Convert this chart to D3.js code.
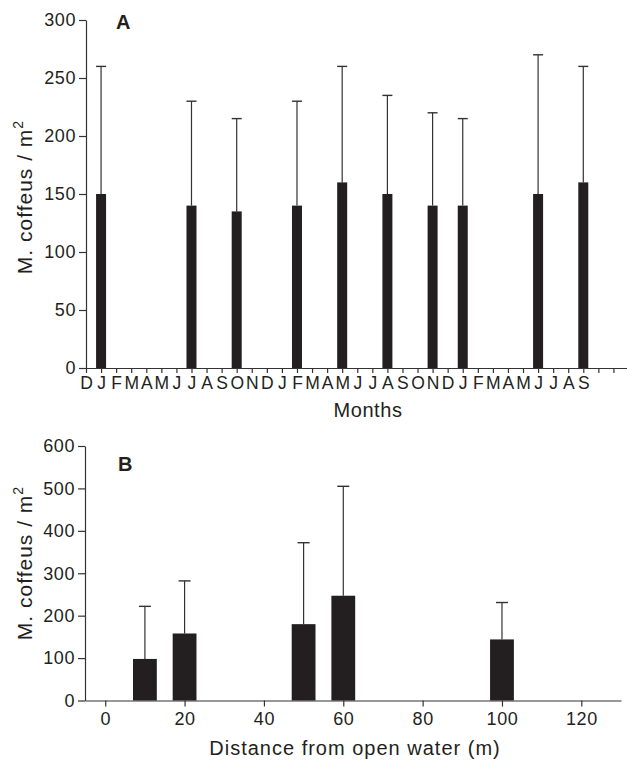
<!doctype html>
<html>
<head>
<meta charset="utf-8">
<script src="https://d3js.org/d3.v7.min.js"></script>
<style>
  body { margin: 0; background: #fff; }
  svg { display: block; font-family: "Liberation Sans", Arial, sans-serif; }
  .axis path, .axis line { stroke: #333; stroke-width: 1.2; }
  .axis text { fill: #231f20; font-size: 18px; letter-spacing: 0.6px; }
  .axis.months text { font-size: 17.5px; letter-spacing: 0; }
</style>
</head>
<body>
<svg id="chart" width="627" height="766"></svg>
<script>
// Panel A: monthly density
const monthLabels = ["D","J","F","M","A","M","J","J","A","S","O","N",
                     "D","J","F","M","A","M","J","J","A","S","O","N",
                     "D","J","F","M","A","M","J","J","A","S","",""];
const sampleMonth = [1, 7, 10, 14, 17, 20, 23, 25, 30, 33];
const monthMean   = [150, 140, 135, 140, 160, 150, 140, 140, 150, 160];
const monthUpper  = [260, 230, 215, 230, 260, 235, 220, 215, 270, 260];
const yTicksA = [0, 50, 100, 150, 200, 250, 300];

// Panel B: distance from open water
const distance    = [10, 20, 50, 60, 100];
const distMean    = [98, 158, 180, 247, 144];
const distUpper   = [222, 282, 372, 505, 231];
const xTicksB = [0, 20, 40, 60, 80, 100, 120];
const yTicksB = [0, 100, 200, 300, 400, 500, 600];

const INK = "#231f20";
const svg = d3.select("#chart");
svg.append("rect").attr("width", 627).attr("height", 766).attr("fill", "#fff");

function yLabel(cx, cy) {
  const t = svg.append("text")
    .attr("transform", `translate(${cx},${cy}) rotate(-90)`)
    .attr("text-anchor", "middle")
    .attr("fill", INK)
    .style("font-size", "21px")
    .style("letter-spacing", "1px");
  t.append("tspan").text("M. coffeus / m");
  t.append("tspan").attr("dy", -9).style("font-size", "14px").text("2");
}

// ---------- A ----------
const xA = d3.scaleLinear().domain([0, 35.9]).range([86, 627]);
const yA = d3.scaleLinear().domain([0, 300]).range([368, 20]);
const barWA = 10;

const gA = svg.append("g");
gA.append("g").attr("class", "axis")
  .attr("transform", `translate(86,0)`)
  .call(d3.axisLeft(yA).tickValues(yTicksA).tickSize(7).tickPadding(3).tickSizeOuter(0));
gA.append("g").attr("class", "axis months")
  .attr("transform", `translate(0,368)`)
  .call(d3.axisBottom(xA).tickValues(d3.range(monthLabels.length))
    .tickFormat(i => monthLabels[i]).tickSize(5).tickPadding(4).tickSizeOuter(0));

sampleMonth.forEach((m, i) => {
  const cx = xA(m);
  gA.append("line").attr("x1", cx).attr("x2", cx)
    .attr("y1", yA(monthMean[i])).attr("y2", yA(monthUpper[i]))
    .attr("stroke", "#333").attr("stroke-width", 1.2);
  gA.append("line").attr("x1", cx - barWA / 2).attr("x2", cx + barWA / 2)
    .attr("y1", yA(monthUpper[i])).attr("y2", yA(monthUpper[i]))
    .attr("stroke", "#333").attr("stroke-width", 1.4);
  gA.append("rect").attr("x", cx - barWA / 2).attr("width", barWA)
    .attr("y", yA(monthMean[i])).attr("height", yA(0) - yA(monthMean[i]))
    .attr("fill", INK);
});

gA.append("text").attr("x", 116).attr("y", 29).attr("fill", INK)
  .style("font-size", "20px").style("font-weight", "bold").text("A");
gA.append("text").attr("x", 368).attr("y", 417).attr("text-anchor", "middle")
  .attr("fill", INK).style("font-size", "20px").style("letter-spacing", "0.6px").text("Months");
yLabel(32, 197);

// ---------- B ----------
const xB = d3.scaleLinear().domain([-5.1, 130]).range([85, 621]);
const yB = d3.scaleLinear().domain([0, 600]).range([700.5, 446]);
const barWB = xB(6) - xB(0);

const gB = svg.append("g");
gB.append("g").attr("class", "axis")
  .attr("transform", `translate(85,0)`)
  .call(d3.axisLeft(yB).tickValues(yTicksB).tickSize(7).tickPadding(3).tickSizeOuter(0));
gB.append("g").attr("class", "axis")
  .attr("transform", `translate(0,700.5)`)
  .call(d3.axisBottom(xB).tickValues(xTicksB).tickSize(6).tickPadding(6).tickSizeOuter(0));

distance.forEach((d, i) => {
  const cx = xB(d);
  gB.append("line").attr("x1", cx).attr("x2", cx)
    .attr("y1", yB(distMean[i])).attr("y2", yB(distUpper[i]))
    .attr("stroke", "#333").attr("stroke-width", 1.2);
  gB.append("line").attr("x1", cx - 6).attr("x2", cx + 6)
    .attr("y1", yB(distUpper[i])).attr("y2", yB(distUpper[i]))
    .attr("stroke", "#333").attr("stroke-width", 1.4);
  gB.append("rect").attr("x", cx - barWB / 2).attr("width", barWB)
    .attr("y", yB(distMean[i])).attr("height", yB(0) - yB(distMean[i]))
    .attr("fill", INK);
});

gB.append("text").attr("x", 118).attr("y", 471).attr("fill", INK)
  .style("font-size", "20px").style("font-weight", "bold").text("B");
gB.append("text").attr("x", 355).attr("y", 755).attr("text-anchor", "middle")
  .attr("fill", INK).style("font-size", "20px").style("letter-spacing", "1px")
  .text("Distance from open water (m)");
yLabel(32, 563);
</script>
</body>
</html>
